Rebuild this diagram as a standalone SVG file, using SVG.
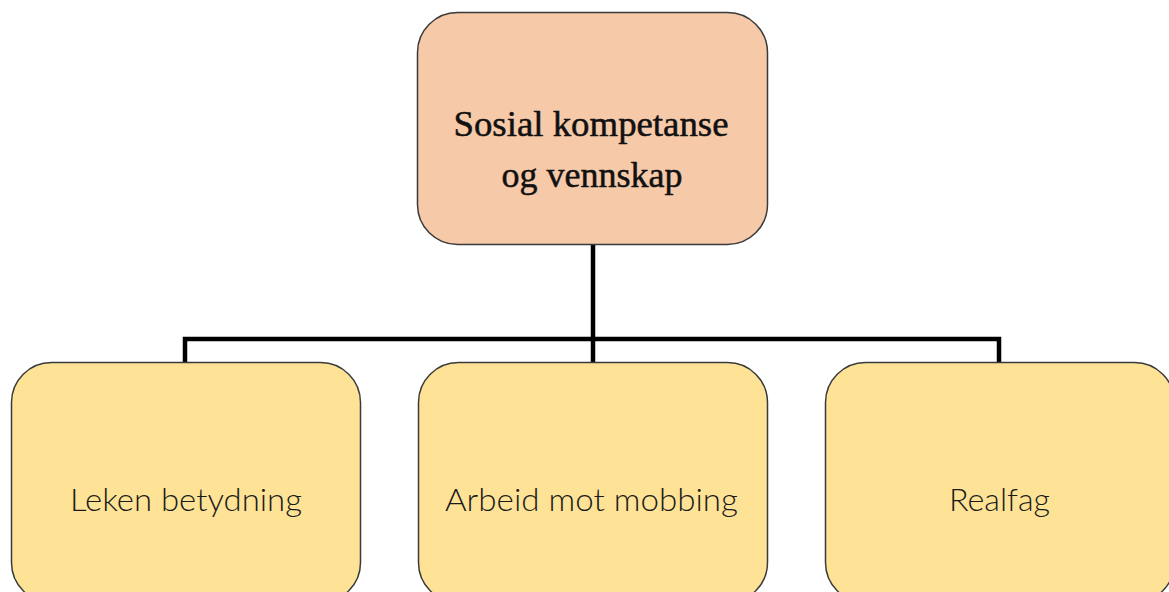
<svg xmlns="http://www.w3.org/2000/svg" width="1169" height="592" viewBox="0 0 1169 592">
  <style>
    .box { stroke: #3a3a3a; stroke-width: 1.5; }
    .top { fill: #F6C9A9; }
    .leaf { fill: #FEE397; }
    .ttl { font-family: "Liberation Serif", serif; font-size: 36px; fill: #111; stroke: #111; stroke-width: 0.5; text-anchor: middle; }
    .lbl { font-family: Lato, "Open Sans", sans-serif; font-size: 31px; font-weight: 300; fill: #1a1a1a; text-anchor: middle; }
    .conn { fill: none; stroke: #000; stroke-width: 4.5; stroke-linejoin: miter; }
  </style>
  <rect width="1169" height="592" fill="#fff"/>
  <g id="connectors">
    <path class="conn" d="M593,244 V363"/>
    <path class="conn" d="M185,363 V339 H999 V363"/>
  </g>
  <g id="node-root">
    <rect class="box top" x="417.5" y="12.5" width="350" height="232" rx="40" ry="40"/>
    <text class="ttl" x="591" y="136" textLength="275" lengthAdjust="spacingAndGlyphs">Sosial kompetanse</text>
    <text class="ttl" x="592" y="187">og vennskap</text>
  </g>
  <g id="node-leken">
    <rect class="box leaf" x="11.5" y="362.5" width="349" height="240" rx="40" ry="40"/>
    <text class="lbl" x="186" y="511" textLength="232" lengthAdjust="spacingAndGlyphs">Leken betydning</text>
  </g>
  <g id="node-mobbing">
    <rect class="box leaf" x="418.5" y="362.5" width="349" height="240" rx="40" ry="40"/>
    <text class="lbl" x="591.5" y="511" textLength="293" lengthAdjust="spacingAndGlyphs">Arbeid mot mobbing</text>
  </g>
  <g id="node-realfag">
    <rect class="box leaf" x="825.5" y="362.5" width="349" height="240" rx="40" ry="40"/>
    <text class="lbl" x="999.5" y="511" textLength="101" lengthAdjust="spacingAndGlyphs">Realfag</text>
  </g>
</svg>
